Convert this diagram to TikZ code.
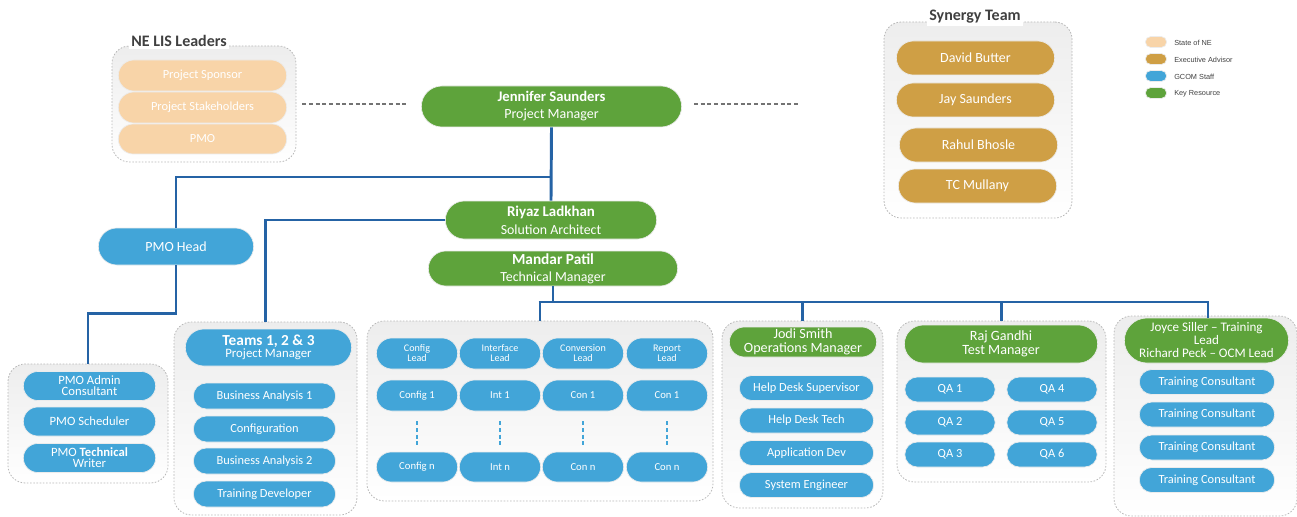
\documentclass[tikz,border=0pt]{standalone}
\usepackage{fontspec}
\setmainfont{Carlito}
\newfontfamily\legendfont{Liberation Sans}
\usepackage{tikz}
\usetikzlibrary{shapes.misc}

\definecolor{peach}{HTML}{F8D4A8}
\definecolor{gold}{HTML}{CF9F45}
\definecolor{gcom}{HTML}{42A5D8}
\definecolor{keyres}{HTML}{5EA33B}
\definecolor{linkblue}{HTML}{2563A5}
\definecolor{titlegray}{HTML}{404040}

\newcommand{\px}{0.75pt}

\tikzset{
  sz/.style 2 args={minimum width=#1*\px, minimum height=#2*\px},
  box/.style={rounded rectangle, draw=white!85!gray, line width=0.5pt, text=white,
              align=center, inner sep=1pt, font=\fontsize{9.3}{10}\selectfont},
  state/.style={box, fill=peach},
  advisor/.style={box, fill=gold, font=\fontsize{10.5}{11}\selectfont},
  staff/.style={box, fill=gcom},
  key/.style={box, fill=keyres},
  group/.style={rectangle, draw=black!28, dash pattern=on 1.2pt off 1.2pt,
                line width=0.6pt, rounded corners=13pt, top color=black!7,
                bottom color=white, inner sep=0pt},
  grouptitle/.style={fill=white, text=titlegray, inner sep=2pt,
                     font=\fontsize{12}{13}\selectfont\bfseries},
  link/.style={draw=linkblue, line width=2.2pt},
  tie/.style={draw=black!55, line width=1pt, dash pattern=on 3pt off 2pt},
  gap/.style={draw=gcom, line width=1.2pt, dash pattern=on 3pt off 2pt},
}

\begin{document}
\begin{tikzpicture}[x=0.75pt, y=-0.75pt]
\useasboundingbox (0,0) rectangle (1297,517);

% group frames
\node[group, sz={184}{116}] (leadGrp) at (204,104) {};
\node[group, sz={188}{196}] (synGrp) at (978,120) {};
\node[group, sz={160}{119}] (pmoGrp) at (88,423.5) {};
\node[group, sz={183}{193}] (teamGrp) at (265.5,418.5) {};
\node[group, sz={346}{180}] (devGrp) at (540,411) {};
\node[group, sz={161}{187}] (opsGrp) at (802.5,414.5) {};
\node[group, sz={209}{161}] (qaGrp) at (1001.5,401.5) {};
\node[group, sz={183}{200}] (trainGrp) at (1205.5,416) {};

\node[grouptitle] (leadTitle) at (179,41) {NE LIS Leaders};
\node[grouptitle] (synTitle) at (975,17) {Synergy Team};

% NE LIS leaders
\node[state, sz={171}{31}] (sponsor) at (202.5,75.5) {Project Sponsor};
\node[state, sz={171}{31}] (stake) at (202.5,107.5) {Project Stakeholders};
\node[state, sz={171}{30}] (pmo) at (202.5,139) {PMO};

% synergy team
\node[advisor, sz={161}{34}] (david) at (975.5,58) {David Butter};
\node[advisor, sz={161}{34}] (jay) at (975.5,100) {Jay Saunders};
\node[advisor, sz={161}{34}] (rahul) at (978.5,145) {Rahul Bhosle};
\node[advisor, sz={161}{34}] (mullany) at (977.5,186) {TC Mullany};

% legend
\begin{scope}[every node/.style={font=\legendfont\fontsize{5.5}{6}\selectfont,
                                 text=titlegray, anchor=west, inner sep=0pt}]
  \node[box, fill=peach, sz={24}{11}, anchor=center] (swState) at (1156,42) {};
  \node[box, fill=gold, sz={24}{11}, anchor=center] (swAdv) at (1156,59) {};
  \node[box, fill=gcom, sz={24}{11}, anchor=center] (swStaff) at (1156,76) {};
  \node[box, fill=keyres, sz={24}{11}, anchor=center] (swKey) at (1156,93) {};
  \node (lgState) at (1174,43) {State of NE};
  \node (lgAdv) at (1174,60) {Executive Advisor};
  \node (lgStaff) at (1174,77) {GCOM Staff};
  \node (lgKey) at (1174,94) {Key Resource};
\end{scope}

% managers
\node[key, sz={263}{41}, font=\fontsize{10.5}{12.8}\selectfont] (jen) at (551.5,106.5)
  {{\fontsize{11}{12}\selectfont\bfseries Jennifer Saunders}\\Project Manager};
\node[key, sz={214}{38}, font=\fontsize{10.4}{13.5}\selectfont] (riyaz) at (551,220)
  {{\fontsize{11.2}{12}\selectfont\bfseries Riyaz Ladkhan}\\Solution Architect};
\node[key, sz={252}{35}, font=\fontsize{10.4}{12.8}\selectfont] (mandar) at (553,268.5)
  {{\fontsize{11.5}{12}\selectfont\bfseries Mandar Patil}\\Technical Manager};
\node[staff, sz={158}{37}, font=\fontsize{10.5}{11}\selectfont] (pmoHead) at (176,246.5) {PMO Head};

% PMO staff
\begin{scope}[every node/.style={staff, sz={135}{29}, font=\fontsize{9.5}{8.3}\selectfont}]
  \node (admin) at (89.5,386) {PMO Admin\\Consultant};
  \node (sched) at (89.5,421.5) {PMO Scheduler};
  \node (writer) at (89.5,458) {PMO \textbf{Technical}\\Writer};
\end{scope}

% teams 1, 2 & 3
\node[staff, sz={169}{37}, font=\fontsize{9.6}{9}\selectfont] (teamHead) at (268.5,347.5)
  {{\fontsize{11.5}{12}\selectfont\bfseries Teams 1, 2 \& 3}\\Project Manager};
\begin{scope}[every node/.style={staff, sz={145}{26}}]
  \node (ba1) at (264.5,396) {Business Analysis 1};
  \node (config) at (264.5,429) {Configuration};
  \node (ba2) at (264.5,461) {Business Analysis 2};
  \node (trainDev) at (264.5,494) {Training Developer};
\end{scope}

% development leads grid
\foreach \c/\x/\lead/\first/\last in {cfg/417/{Config\\Lead}/Config 1/Config n,
                                      int/500/{Interface\\Lead}/Int 1/Int n,
                                      conv/583/{Conversion\\Lead}/Con 1/Con n,
                                      rep/667/{Report\\Lead}/Con 1/Con n}{
  \node[staff, sz={84}{31}, font=\fontsize{7.6}{7.5}\selectfont] (lead-\c) at (\x,353.5) {\lead};
  \node[staff, sz={84}{31}, font=\fontsize{8}{8}\selectfont] (one-\c) at (\x,395.5) {\first};
  \node[staff, sz={84}{30}, font=\fontsize{8}{8}\selectfont] (n-\c) at (\x,467) {\last};
  \draw[gap] ([yshift=-10*\px]one-\c.south) -- ([yshift=7*\px]n-\c.north);
}

% operations
\node[key, sz={150}{30}, font=\fontsize{10.6}{10.5}\selectfont] (opsHead) at (803,342)
  {Jodi Smith\\Operations Manager};
\begin{scope}[every node/.style={staff, sz={137}{25}}]
  \node (deskSup) at (806.5,388) {Help Desk Supervisor};
  \node (deskTech) at (806.5,420.5) {Help Desk Tech};
  \node (appDev) at (806.5,453) {Application Dev};
  \node (sysEng) at (806.5,485) {System Engineer};
\end{scope}

% test
\node[key, sz={196}{38}, font=\fontsize{10.6}{10.5}\selectfont] (qaHead) at (1001,344)
  {Raj Gandhi\\Test Manager};
\begin{scope}[every node/.style={staff, sz={93}{25}}]
  \node (qa1) at (950,389.5) {QA 1};
  \node (qa2) at (950,422.5) {QA 2};
  \node (qa3) at (950,454.5) {QA 3};
  \node (qa4) at (1052,389.5) {QA 4};
  \node (qa5) at (1052,422.5) {QA 5};
  \node (qa6) at (1052,454.5) {QA 6};
\end{scope}

% training
\node[key, sz={167}{45}, font=\fontsize{9.8}{9.75}\selectfont] (trainHead) at (1206.5,340.5)
  {Joyce Siller -- Training\\Lead\\Richard Peck -- OCM Lead};
\begin{scope}[every node/.style={staff, sz={138}{25}}]
  \node (cons1) at (1207,382) {Training Consultant};
  \node (cons2) at (1207,414.5) {Training Consultant};
  \node (cons3) at (1207,447.5) {Training Consultant};
  \node (cons4) at (1207,480) {Training Consultant};
\end{scope}

% reporting lines
\coordinate (split) at (551,177);
\coordinate (busL) at (540,302);
\coordinate (busR) at (1208,302);
\draw[tie] ([xshift=6*\px]leadGrp.east) -- ([xshift=-12*\px]jen.west |- leadGrp.east);
\draw[tie] ([xshift=12*\px]jen.east |- leadGrp.east) -- ++(105,0);
\draw[link] (jen.south) -- (riyaz.north);
\draw[link] (split) -| (pmoHead.north);
\draw[link] (pmoHead.south) |- ++(0,48) -| (pmoGrp.north);
\draw[link] (riyaz.west) -| (teamGrp.north);
\draw[link] (mandar.south) -- (mandar.south |- busL);
\draw[link] ([xshift=-1.1pt]busL) -- ([xshift=1.1pt]busR);
\draw[link] (busL) -- (devGrp.north);
\draw[link] (opsGrp.north |- busL) -- (opsGrp.north);
\draw[link] (qaGrp.north |- busL) -- (qaGrp.north);
\draw[link] (busR) -- (busR |- trainHead.north);
\end{tikzpicture}
\end{document}
